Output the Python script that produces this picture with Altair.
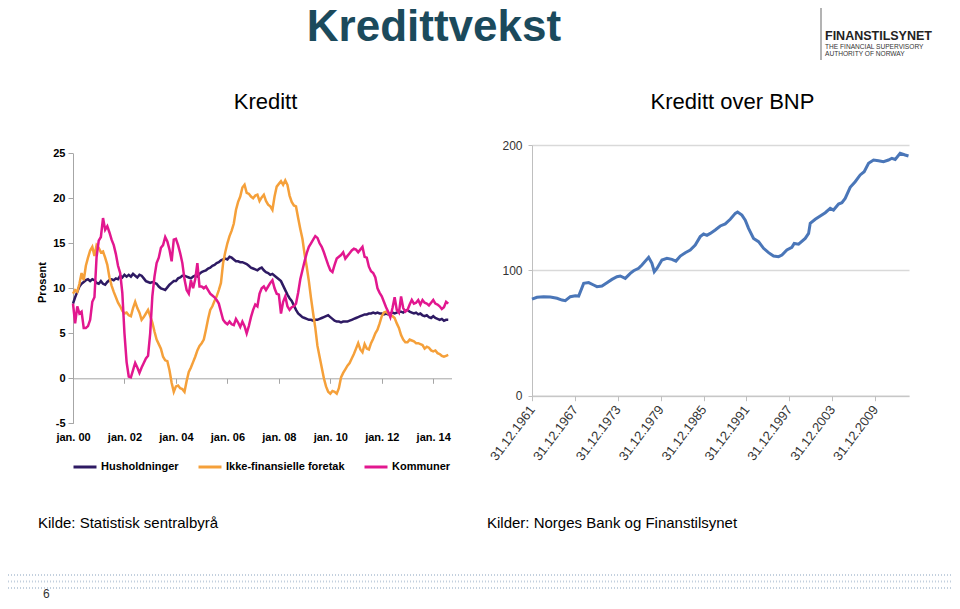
import altair as alt
import pandas as pd

# ---------------- data: left panel (monthly growth, per cent) ----------------
series_names = ["Husholdninger", "Ikke-finansielle foretak", "Kommuner"]
series_colors = ["#2e1a63", "#f5a03a", "#e2178f"]
first_year = 2000  # first observation: jan. 2000, monthly

husholdninger = [
    8.3, 9.0, 9.6, 10.2, 10.5, 10.7, 10.9, 11.0, 10.8, 11.0,
    10.9, 10.6, 10.5, 10.8, 10.5, 10.4, 10.7, 10.9, 11.0, 10.9,
    11.1, 11.0, 11.4, 11.2, 11.5, 11.3, 11.5, 11.3, 11.6, 11.4,
    11.2, 11.5, 11.4, 11.1, 10.8, 10.7, 10.6, 10.7, 10.6, 10.5,
    10.2, 10.0, 9.9, 9.8, 10.1, 10.4, 10.6, 10.8, 10.8, 11.1,
    11.2, 11.4, 11.4, 11.3, 11.2, 11.1, 11.3, 11.4, 11.3, 11.6,
    11.8, 11.9, 12.0, 12.2, 12.3, 12.5, 12.6, 12.8, 12.9, 13.1,
    13.2, 13.3, 13.2, 13.5, 13.4, 13.2, 13.0, 13.0, 12.9, 12.9,
    12.8, 12.7, 12.5, 12.3, 12.2, 12.1, 12.0, 12.2, 12.3, 12.0,
    11.8, 11.7, 11.5, 11.6, 11.4, 11.2, 11.0, 10.8, 10.3, 9.8,
    9.3, 8.9, 8.6, 8.1, 7.6, 7.2, 7.0, 6.8, 6.7, 6.6,
    6.5, 6.5, 6.4, 6.5, 6.5, 6.6, 6.7, 6.8, 6.9, 7.0,
    6.8, 6.6, 6.4, 6.3, 6.3, 6.2, 6.3, 6.3, 6.3, 6.4,
    6.5, 6.6, 6.7, 6.8, 6.9, 7.0, 7.1, 7.1, 7.2, 7.2,
    7.3, 7.2, 7.3, 7.2, 7.2, 7.1, 7.2, 7.1, 7.2, 7.3,
    7.2, 7.3, 7.4, 7.4, 7.3, 7.5, 7.6, 7.4, 7.3, 7.2,
    7.3, 7.1, 7.2, 7.0, 6.9, 7.0, 6.8, 6.7, 6.9, 6.7,
    6.6, 6.5, 6.6, 6.4, 6.5, 6.5,
]

foretak = [
    9.4, 9.8, 9.6, 10.5, 11.7, 10.9, 12.5, 13.4, 14.2, 14.6,
    13.6, 14.8, 14.5, 14.0, 14.1, 13.4, 12.6, 11.2, 10.3, 9.6,
    9.0, 8.4, 8.0, 7.5, 7.2, 7.3, 7.0, 6.9, 7.8, 8.5,
    7.8, 7.3, 6.5, 6.8, 7.2, 7.6, 6.9, 6.2, 5.2, 4.3,
    3.8, 3.3, 2.4, 2.0, 1.9, 0.9, -0.5, -1.5, -0.9, -0.8,
    -1.1, -1.2, -1.5, -0.3, 0.7, 1.2, 1.8, 2.4, 3.1, 3.6,
    3.9, 4.3, 5.4, 6.6, 7.6, 8.0, 8.6, 9.1, 9.8, 10.6,
    12.8, 14.0, 15.0, 15.8, 16.4, 17.2, 18.7, 19.6, 20.2, 21.2,
    21.5, 20.6, 20.5, 20.2, 20.0, 20.3, 20.4, 19.7, 20.1, 20.4,
    19.7, 19.3, 19.1, 18.7, 20.2, 21.3, 21.6, 21.9, 21.5, 22.0,
    21.5, 20.3, 19.6, 19.2, 19.1, 17.8, 16.6, 15.5, 13.8, 12.4,
    10.8, 8.9, 7.2, 5.6, 3.6, 2.4, 1.2, 0.0, -0.9, -1.5,
    -1.7, -1.4, -1.5, -1.7, -1.1, 0.1, 0.6, 1.0, 1.4, 1.7,
    2.2, 2.7, 3.3, 3.9, 3.2, 2.9, 3.8, 3.3, 3.2, 3.9,
    4.4, 5.0, 5.4, 6.1, 6.9, 7.3, 7.4, 7.2, 7.0, 6.9,
    6.7, 6.1, 5.6, 4.8, 4.3, 4.0, 4.0, 4.3, 4.2, 4.1,
    3.9, 3.9, 3.8, 3.7, 3.3, 3.5, 3.4, 3.1, 3.0, 3.1,
    2.8, 2.7, 2.5, 2.4, 2.5, 2.6,
]

kommuner = [
    8.3, 6.1, 8.0, 7.2, 7.4, 5.6, 5.6, 5.8, 6.5, 8.5,
    9.0, 13.5, 15.3, 15.7, 17.8, 16.5, 16.9, 16.2, 15.4, 14.8,
    13.8, 12.5, 11.7, 9.5, 5.0, 1.8, 0.2, 0.1, 0.9, 1.7,
    1.2, 0.6, 1.2, 1.7, 2.2, 2.5, 5.0, 9.1, 11.3, 12.8,
    13.4, 14.5, 14.8, 15.7, 15.2, 14.3, 13.0, 15.4, 15.5, 14.8,
    13.9, 12.8, 11.0, 9.8, 9.4, 10.9, 10.0, 11.0, 12.8, 10.2,
    10.2, 10.0, 10.2, 9.8, 9.4, 9.2, 9.0, 8.7, 8.3, 7.4,
    6.5, 6.2, 6.0, 6.3, 6.0, 5.9, 6.6, 6.2, 5.7, 6.3,
    5.8, 5.0, 5.8, 6.8, 7.6, 8.2, 8.0, 9.4, 10.0, 10.2,
    9.8, 10.2, 10.6, 10.9, 10.0, 9.4, 9.3, 7.2, 8.5, 9.1,
    8.0, 7.6, 7.9, 8.0, 8.3, 9.5, 11.0, 12.0, 13.0, 13.9,
    14.6, 15.0, 15.4, 15.8, 15.6, 15.0, 14.6, 14.0, 13.3, 12.6,
    12.0, 11.8, 12.6, 13.3, 13.5, 13.7, 14.0, 13.3, 13.6, 13.9,
    14.2, 14.4, 14.3, 14.0, 14.3, 14.6, 13.5, 13.4, 12.4, 11.9,
    11.7, 11.2, 10.0, 9.5, 9.1, 8.5, 7.9, 7.4, 6.8, 7.8,
    9.0, 7.6, 7.3, 9.1, 7.8, 7.4, 7.6, 8.2, 8.7, 8.3,
    8.4, 8.7, 8.2, 8.7, 8.4, 8.3, 8.1, 8.4, 8.7, 8.3,
    8.2, 8.0, 7.7, 7.9, 8.5, 8.3,
]

left_x_ticks = [2000, 2002, 2004, 2006, 2008, 2010, 2012, 2014]
left_y_ticks = [-5, 0, 5, 10, 15, 20, 25]

# ---------------- data: right panel (credit / GDP) ----------------
bnp_years = [
    1962.00, 1962.70, 1963.63, 1964.56, 1965.50, 1966.20, 1966.66, 1967.36,
    1968.06, 1968.53, 1969.23, 1969.93, 1970.62, 1971.09, 1971.79, 1972.49,
    1973.19, 1973.89, 1974.35, 1975.05, 1975.75, 1976.22, 1976.92, 1977.38,
    1978.32, 1978.78, 1979.11, 1979.48, 1980.18, 1980.88, 1981.58, 1982.14,
    1982.75, 1983.45, 1984.14, 1984.84, 1985.54, 1986.01, 1986.48, 1986.94,
    1987.64, 1988.34, 1989.04, 1989.74, 1990.44, 1990.76, 1991.37, 1991.84,
    1992.30, 1993.00, 1993.70, 1994.40, 1995.10, 1995.80, 1996.50, 1996.97,
    1997.66, 1998.36, 1998.69, 1999.30, 2000.23, 2000.70, 2000.93, 2001.63,
    2002.33, 2003.03, 2003.73, 2004.19, 2004.89, 2005.36, 2005.82, 2006.52,
    2007.22, 2007.92, 2008.48, 2009.09, 2009.79, 2010.48, 2011.18, 2011.88,
    2012.35, 2012.82, 2013.51, 2014.21, 2014.68,
]
bnp_values = [
    77.0, 78.5, 79.0, 78.7, 77.7, 76.3, 75.8, 79.0,
    79.8, 79.5, 89.6, 90.2, 88.3, 87.0, 87.5, 90.2,
    92.8, 94.9, 95.5, 93.6, 97.6, 99.7, 101.6, 104.3,
    110.4, 105.6, 98.9, 101.5, 108.2, 109.6, 108.8, 107.4,
    111.4, 114.1, 116.2, 120.2, 126.9, 129.0, 127.9, 129.5,
    132.2, 135.4, 137.0, 140.7, 145.5, 146.5, 144.1, 140.0,
    133.5, 125.5, 122.9, 117.6, 114.1, 111.4, 110.9, 112.2,
    116.2, 118.4, 121.5, 120.9, 125.5, 129.5, 137.5, 140.7,
    143.4, 146.0, 149.5, 148.1, 152.9, 154.0, 157.4, 166.2,
    170.7, 176.1, 178.7, 185.4, 188.0, 187.5, 186.7, 188.0,
    189.4, 188.5, 193.4, 192.0, 191.2,
]
right_x_ticks = [1962, 1968, 1974, 1980, 1986, 1992, 1998, 2004, 2010]
right_y_ticks = [0, 100, 200]

# ---------------- build tables ----------------
rows = []
for name, vals in zip(series_names, [husholdninger, foretak, kommuner]):
    for i, v in enumerate(vals):
        rows.append({"t": first_year + i / 12.0, "v": v, "serie": name})
df_left = pd.DataFrame(rows)
df_right = pd.DataFrame({"t": bnp_years, "v": bnp_values})

W, H = 944, 593
FONT = "Liberation Sans"

# ---------------- left panel ----------------
left = alt.Chart(df_left).mark_line(strokeWidth=2.5).encode(
    x=alt.X(
        "t:Q",
        scale=alt.Scale(domain=[2000, 2014.71], range=[65, 443.5], nice=False, zero=False),
        axis=alt.Axis(
            orient="bottom", offset=-222.7, values=left_x_ticks, title=None,
            labelExpr="'jan. ' + (datum.value % 100 < 10 ? '0' : '') + (datum.value % 100)",
            grid=False, domainColor="#a6a6a6", tickColor="#a6a6a6", tickSize=5,
            labelPadding=48, labelFontSize=11, labelFontWeight="bold", labelColor="#000000",
            labelFont=FONT, labelFlush=False, labelOverlap=False,
        ),
    ),
    y=alt.Y(
        "v:Q",
        scale=alt.Scale(domain=[-5, 25], range=[415.3, 145.3], nice=False, zero=False),
        axis=alt.Axis(
            orient="left", offset=-65, values=left_y_ticks, title="Prosent",
            labelExpr="datum.value < 0 ? '-' + abs(datum.value) : '' + datum.value",
            grid=False, domainColor="#a6a6a6", tickColor="#a6a6a6", tickSize=5,
            labelPadding=3, labelFontSize=11, labelFontWeight="bold", labelColor="#000000",
            labelFont=FONT, titleFont=FONT, titleFontSize=11, titleFontWeight="bold",
            titleColor="#000000", titleX=-31, titleY=274, titleAngle=270,
            titleAlign="center", titleBaseline="middle",
        ),
    ),
    color=alt.Color(
        "serie:N",
        scale=alt.Scale(domain=series_names, range=series_colors),
        legend=alt.Legend(
            orient="none", legendX=64, legendY=446, direction="horizontal", title=None,
            symbolType="stroke", symbolStrokeWidth=3, symbolSize=529, labelFontSize=11,
            labelFontWeight="bold", labelFont=FONT, labelColor="#000000",
            columnPadding=13, labelOffset=3,
        ),
    ),
)

# ---------------- right panel ----------------
right = alt.Chart(df_right).mark_line(strokeWidth=3, color="#4a76b8").encode(
    x=alt.X(
        "t:Q",
        scale=alt.Scale(domain=[1962, 2014.75], range=[524, 901], nice=False, zero=False),
        axis=alt.Axis(
            orient="bottom", offset=-205.3, values=right_x_ticks, title=None,
            labelExpr="'31.12.' + (datum.value - 1)", labelAngle=307,
            labelAlign="right", labelBaseline="middle", labelPadding=6,
            grid=False, domainColor="#bfbfbf", tickColor="#bfbfbf", tickSize=5,
            labelFontSize=13, labelColor="#333333", labelFont=FONT,
            labelFlush=False, labelOverlap=False,
        ),
    ),
    y=alt.Y(
        "v:Q",
        scale=alt.Scale(domain=[0, 200], range=[387.7, 137], nice=False, zero=False),
        axis=alt.Axis(
            orient="left", offset=-524, values=right_y_ticks, title=None,
            grid=True, gridColor="#d9d9d9", gridWidth=1.5,
            domainColor="#bfbfbf", tickColor="#bfbfbf", tickSize=4, labelPadding=6,
            labelFontSize=12, labelColor="#333333", labelFont=FONT,
        ),
    ),
)


# ---------------- texts and decorations ----------------
def txt(s, x, y, size, color="#000000", weight="normal", align="left", baseline="alphabetic"):
    return alt.Chart(pd.DataFrame({"s": [s]})).mark_text(
        fontSize=size, font=FONT, fontWeight=weight, color=color,
        align=align, baseline=baseline,
    ).encode(x=alt.value(x), y=alt.value(y), text="s:N")


def hrule(x1, x2, y, color, width, dash):
    return alt.Chart(pd.DataFrame({"a": [0]})).mark_rule(
        color=color, strokeWidth=width, strokeDash=dash
    ).encode(x=alt.value(x1), x2=alt.value(x2), y=alt.value(y))


texts = [
    txt("Kredittvekst", 426, 33, 44, color="#1b4a5c", weight="bold", align="center"),
    txt("Kreditt", 257.5, 101, 22, align="center"),
    txt("Kreditt over BNP", 724.5, 101, 22, align="center"),
    txt("Kilde: Statistisk sentralbyrå", 30, 520, 15),
    txt("Kilder: Norges Bank og Finanstilsynet", 479, 520, 15),
    txt("FINANSTILSYNET", 817, 32, 12.5, color="#222222", weight="bold"),
    txt("THE FINANCIAL SUPERVISORY", 817, 40.5, 6.6, color="#333333"),
    txt("AUTHORITY OF NORWAY", 817, 48, 6.6, color="#333333"),
    txt("6", 35, 593, 12, color="#333333", baseline="bottom"),
]

logo_bar = alt.Chart(pd.DataFrame({"a": [0]})).mark_rule(color="#9a9a9a", strokeWidth=1.5).encode(
    x=alt.value(813), y=alt.value(0), y2=alt.value(52))

dots = [
    hrule(0, 944, 567, "#c3d0de", 2, [1, 2]),
    hrule(0, 944, 573.5, "#c3d0de", 2, [1, 2]),
    hrule(0, 944, 580, "#c3d0de", 2, [1, 2]),
]

chart = alt.layer(left, right, *texts, logo_bar, *dots).resolve_scale(
    x="independent", y="independent", color="independent"
).properties(
    width=W, height=H, padding=0, autosize=alt.AutoSizeParams(type="none"),
    background="#ffffff",
).configure(font=FONT, view=alt.ViewConfig(stroke=None))

chart.save("out.html", embed_options={"renderer": "svg", "actions": False})
